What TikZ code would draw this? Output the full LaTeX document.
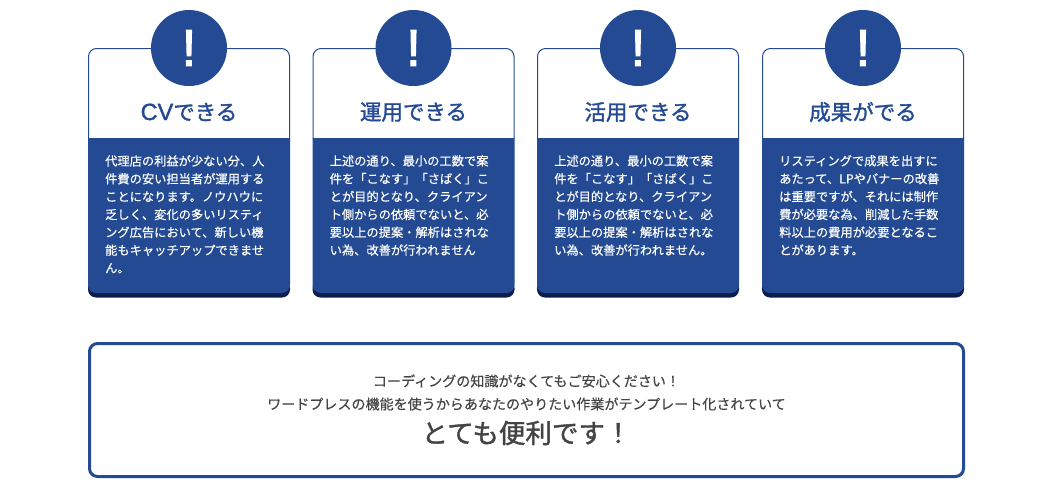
\documentclass[tikz,border=0pt]{standalone}
\usepackage{fontspec}
\setmainfont{Noto Sans CJK JP}
\newfontfamily\bangfont{Liberation Sans}[FakeBold=2.2]
\newfontfamily\titlefont{Noto Sans CJK JP}[FakeBold=1.4]
\newfontfamily\latinfont{Liberation Sans}[FakeBold=1.4]
\newfontfamily\bodyfont{Noto Sans CJK JP}[FakeBold=0.5]
\newfontfamily\notefont{Noto Sans CJK JP}[FakeBold=0.3]
\newfontfamily\bigfont{Noto Sans CJK JP}[FakeBold=1.4]
\definecolor{brandblue}{HTML}{234A92}
\definecolor{branddark}{HTML}{0B1E4B}
\definecolor{inkgray}{HTML}{444444}
\tikzset{
  x=1pt,y=-1pt,
  bangdisc/.style={circle,fill=brandblue,minimum size=76pt,inner sep=0pt,text=white,font=\bangfont\fontsize{52}{52}\selectfont},
  cardtitle/.style={text=brandblue,inner sep=0pt,anchor=center,font=\titlefont\fontsize{21.5}{26}\selectfont},
  cardbody/.style={text=white,inner sep=0pt,anchor=north west,align=left,font=\bodyfont\fontsize{12.25}{17.85}\selectfont},
  noteline/.style={text=inkgray,inner sep=0pt,anchor=center,font=\notefont\fontsize{14.05}{14}\selectfont},
  notebig/.style={text=inkgray,inner sep=0pt,anchor=center,font=\bigfont\fontsize{26.5}{26}\selectfont},
  notebox/.style={draw=brandblue,line width=3pt,rounded corners=8pt,fill=white},
}
\newcommand{\makecard}[4]{%
  \begin{scope}[shift={(#1,0)}]
    \fill[branddark,rounded corners=8pt] (0,280) -- (0,297.5) -- (202,297.5) -- (202,280) -- cycle;
    \draw[brandblue,line width=1pt,rounded corners=8pt,fill=white] (0.5,139) -- (0.5,48.5) -- (201.5,48.5) -- (201.5,139);
    \fill[brandblue,rounded corners=8pt] (0,138) -- (0,293) -- (202,293) -- (202,138);
    \node[bangdisc] (disc#2) at (101,48) {!};
    \node[cardtitle] (title#2) at (101,112) {#3};
    \node[cardbody] (body#2) at (17,155) {#4};
  \end{scope}}
\begin{document}
\begin{tikzpicture}
\useasboundingbox (0,0) rectangle (1051,499);
\fill[white] (0,0) rectangle (1051,499);
\makecard{88}{a}{{\latinfont\fontsize{23.5}{26}\selectfont CV}できる}{代理店の利益が少ない分、人\\件費の安い担当者が運用する\\ことになります。ノウハウに\\乏しく、変化の多いリスティ\\ング広告において、新しい機\\能もキャッチアップできませ\\ん。}
\makecard{312.5}{b}{運用できる}{上述の通り、最小の工数で案\\件を「こなす」「さばく」こ\\とが目的となり、クライアン\\ト側からの依頼でないと、必\\要以上の提案・解析はされな\\い為、改善が行われません}
\makecard{537}{c}{活用できる}{上述の通り、最小の工数で案\\件を「こなす」「さばく」こ\\とが目的となり、クライアン\\ト側からの依頼でないと、必\\要以上の提案・解析はされな\\い為、改善が行われません。}
\makecard{762}{d}{成果がでる}{リスティングで成果を出すに\\あたって、LPやバナーの改善\\は重要ですが、それには制作\\費が必要な為、削減した手数\\料以上の費用が必要となるこ\\とがあります。}
\node[notebox,minimum width=874pt,minimum height=133pt,inner sep=0pt] (note) at (526.5,410) {};
\node[noteline] (noteone) at (526.5,381) {コーディングの知識がなくてもご安心ください！};
\node[noteline] (notetwo) at (526.5,404) {ワードプレスの機能を使うからあなたのやりたい作業がテンプレート化されていて};
\node[notebig] (notethree) at (526.5,433) {とても便利です！};
\end{tikzpicture}
\end{document}
